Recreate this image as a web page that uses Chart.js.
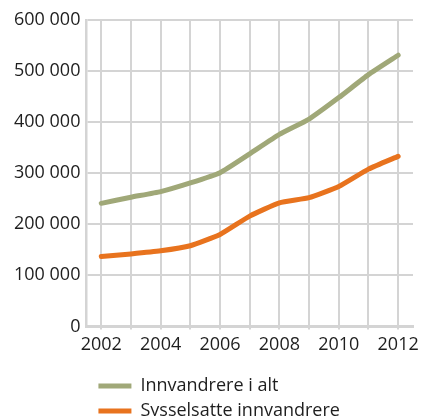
<!DOCTYPE html>
<html>
<head>
<meta charset="utf-8">
<script src="https://cdn.jsdelivr.net/npm/chart.js@4/dist/chart.umd.min.js"></script>
<style>
  html, body { margin: 0; padding: 0; background: #fff; overflow: hidden; }
  .wrap { position: relative; width: 422px; height: 430px; }
</style>
</head>
<body>
<div class="wrap"><canvas id="chart"></canvas></div>
<script>
const years = ['2002', '2003', '2004', '2005', '2006', '2007', '2008', '2009', '2010', '2011', '2012'];
const xTickLabels = ['2002', '', '2004', '', '2006', '', '2008', '', '2010', '', '2012'];
const yTickLabels = ['0', '100 000', '200 000', '300 000', '400 000', '500 000', '600 000'];

const innvandrereIAlt = [241000, 253000, 264000, 281000, 301000, 338000, 376000, 406000, 448000, 493000, 531000];
const sysselsatte = [137000, 142000, 148000, 158000, 180000, 216000, 242000, 252000, 274000, 308000, 333000];

const gridColor = '#d4d4d4';
const textColor = '#1e1e1e';

// nudge the legend in a bit from the plot's left edge
const legendIndent = {
  id: 'legendIndent',
  afterLayout(chart) {
    chart.legend.left += 5;
    chart.legend.right += 5;
  },
};

Chart.defaults.font.family = '"Open Sans", sans-serif';
Chart.defaults.font.size = 18;
Chart.defaults.color = textColor;

new Chart(document.getElementById('chart'), {
  type: 'line',
  data: {
    labels: years,
    datasets: [
      {
        label: 'Innvandrere i alt',
        data: innvandrereIAlt,
        borderColor: '#a0a878',
        backgroundColor: '#a0a878',
        borderWidth: 5,
        borderCapStyle: 'round',
        borderJoinStyle: 'round',
        pointRadius: 0,
        tension: 0.15,
      },
      {
        label: 'Sysselsatte innvandrere',
        data: sysselsatte,
        borderColor: '#e8731e',
        backgroundColor: '#e8731e',
        borderWidth: 5,
        borderCapStyle: 'round',
        borderJoinStyle: 'round',
        pointRadius: 0,
        tension: 0.15,
      },
    ],
  },
  options: {
    responsive: true,
    maintainAspectRatio: false,
    animation: false,
    layout: { padding: { top: 20, right: 9, bottom: 0, left: 8 } },
    plugins: {
      tooltip: { enabled: false },
      legend: {
        position: 'bottom',
        align: 'start',
        fullSize: false,
        labels: {
          usePointStyle: true,
          pointStyle: 'line',
          pointStyleWidth: 33,
          padding: 7,
          color: textColor,
          font: { size: 18 },
        },
      },
    },
    scales: {
      x: {
        offset: true,
        grid: { color: gridColor, lineWidth: 2, offset: false, drawTicks: true, tickLength: 3, tickColor: gridColor },
        border: { color: gridColor, width: 3 },
        ticks: {
          autoSkip: false,
          maxRotation: 0,
          padding: 5,
          callback: (value, i) => xTickLabels[i],
        },
        afterFit: (scale) => {
          scale.height += 9;
          scale.paddingRight = 0; // last label fits inside the offset half-step
        },
      },
      y: {
        min: 0,
        max: 600000,
        grid: { color: gridColor, lineWidth: 2, drawTicks: false },
        border: { color: gridColor, width: 2.5 },
        ticks: {
          stepSize: 100000,
          padding: 6,
          callback: (value) => yTickLabels[Math.round(value / 100000)],
        },
      },
    },
  },
  plugins: [legendIndent],
});
</script>
</body>
</html>
